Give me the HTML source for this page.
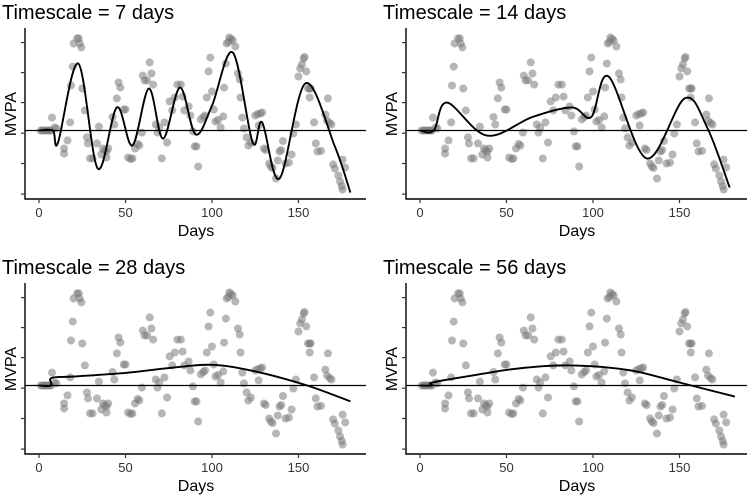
<!DOCTYPE html>
<html><head><meta charset="utf-8"><style>
html,body{margin:0;padding:0;background:#fff;}
svg{display:block;font-family:"Liberation Sans",sans-serif;}
</style></head><body>
<svg id="chart" width="750" height="495"></svg>
<script>
const days = [1,2,3,4,5,6,7,7.5,9,10,14.5,14.5,16.5,18,18.5,19.5,20,22,23,23.5,24.5,25,26.5,27.7,28.3,29.5,31,33.5,34.6,36,37,38,39,40,39,42.5,43.5,45,46,47,49,50,51.5,53,54,55.5,57,58,59.5,60,61,62.5,64,65,66,67.5,68.5,69.5,71,72.5,74,75.5,77,78.5,80,82,83,84,86.5,87.5,89,90,91,92,93.5,95,96,97,98,99,100,101,102,103.5,105,106.5,107,108,108.5,109.5,110,111,112,113.5,115,116,116.5,117.5,118.5,120,121,122.5,125,126.5,128,129,127,130,131,133,134,135,137,138,139,140,141,142.5,144.5,146,147,148.5,150,151,152,153,153.5,154.5,155.5,156.5,157,156.5,159,160,161,163,165.5,166.5,168,169,167,170,171,173,174,175,175.5,175.5,177];
const mvpa = [0,0,0,0,0,0,0,0.43,0.1,0.07,-0.6,-0.77,-0.33,0.27,1.5,2.13,2.9,3.07,3.07,2.9,2.77,1.4,0.67,-0.23,-0.43,-0.93,-0.93,-0.43,0.13,-0.8,-0.6,-0.67,-0.7,-0.6,-0.9,0.45,0.2,1.07,1.6,1.43,0.7,0.7,-0.9,-0.95,-0.93,-0.6,-0.45,-0.5,-0.07,1.83,1.67,1.67,2.27,1.9,1.53,0.2,-0.07,0.1,-0.93,0.27,-0.4,0.97,0.67,1.1,1.53,1.53,1.13,0.67,0.8,0.5,-0.03,-0.53,-0.53,-1.2,0.37,0.45,0.5,1.1,1.97,2.43,1.3,0.7,0.3,0.35,0.1,0.47,1.43,2.23,2.9,2.95,3.1,3.05,3.0,2.8,1.9,1.7,1.1,0.43,0.07,-0.23,-0.5,-0.4,0.5,0.55,0.57,0.6,0.17,-0.6,-0.65,-1.1,-1.2,-1.25,-1.6,-1.0,-0.7,-0.65,-0.35,-1.1,-1.07,-0.8,-0.1,0.2,1.8,2.07,2.2,2.4,2.45,1.97,1.4,1.4,1.4,1.1,0.27,-0.43,-0.7,-0.68,0.53,0.33,0.25,0.2,1.07,-1.13,-1.27,-1.5,-1.7,-1.85,-1.97,-0.97,-1.23];
const yTicks = [-2.12,-1.1,-0.09,0.93,1.93,2.93];
const xTicks = [0,50,100,150];
const titles = ["Timescale = 7 days","Timescale = 14 days","Timescale = 28 days","Timescale = 56 days"];
const c7d = [0,8,11,22.7,34,45,54,63.5,71.7,81.5,90.5,100,112,123.5,129,139,154,171,180];
const c7v = [0,0,-0.4,2.23,-1.27,0.77,-0.5,1.4,-0.27,1.43,-0.13,0.83,2.6,-0.4,0.27,-1.6,1.57,-0.53,-2.07];
const c14d = [0,8,15.6,38.6,65,87.7,99,109,131,153,166,179];
const c14v = [0,0,0.93,-0.17,0.45,0.77,0.45,1.8,-0.93,1.07,0.1,-1.9];
const c28d = [0,7,7.2,20,50,75,100,125,155,180];
const c28v = [0,0,0.25,0.3,0.42,0.58,0.69,0.47,0,-0.53];
const c56d = [0,7,7.2,30,50,70,85,105,125,150,182];
const c56v = [0,0,0.1,0.33,0.52,0.64,0.67,0.62,0.47,0.1,-0.37];
const curvesD=[c7d,c14d,c28d,c56d], curvesV=[c7v,c14v,c28v,c56v];

const NS="http://www.w3.org/2000/svg";
const svg=document.getElementById('chart');
function mk(tag,attrs,parent){const e=document.createElementNS(NS,tag);for(const k in attrs)e.setAttribute(k,attrs[k]);parent.appendChild(e);return e;}
const offs=[[0,0],[381,0],[0,255],[381,255]];
function sx(d){return 39+d*1.73;}
function sy(v){return 130.5-v*30;}
function smoothPath(ds,vs){
  const p=ds.map((d,i)=>[sx(d),sy(vs[i])]);
  let s="M"+p[0][0]+","+p[0][1];
  for(let i=0;i<p.length-1;i++){
    const p0=p[Math.max(0,i-1)],p1=p[i],p2=p[i+1],p3=p[Math.min(p.length-1,i+2)];
    const c1=[p1[0]+(p2[0]-p0[0])/6,p1[1]+(p2[1]-p0[1])/6];
    const c2=[p2[0]-(p3[0]-p1[0])/6,p2[1]-(p3[1]-p1[1])/6];
    s+=" C"+c1[0]+","+c1[1]+" "+c2[0]+","+c2[1]+" "+p2[0]+","+p2[1];
  }
  return s;
}
offs.forEach((o,k)=>{
  const g=mk('g',{transform:`translate(${o[0]},${o[1]})`},svg);
  
  
  const t=mk('text',{x:2,y:19,'font-size':20,fill:'#000'},g);t.textContent=titles[k];
  
  
  const pts=mk('g',{},g);
  
  
  days.forEach((d,i)=>{
    const c=mk('circle',{cx:sx(d),cy:sy(mvpa[i]),r:4,fill:'#7a7a7a','fill-opacity':0.55},pts);
    
    
  });
  const z=mk('line',{x1:25,x2:366,y1:sy(0),y2:sy(0),stroke:'#000','stroke-width':1.3},g);
  
  
  const cp=mk('path',{d:smoothPath(curvesD[k],curvesV[k]),fill:'none',stroke:'#000','stroke-width':1.9},g);
  
  
  const ax=mk('path',{d:'M25,28 V199 H366',fill:'none',stroke:'#000','stroke-width':1.4},g);
  
  
  yTicks.forEach(v=>{const l=mk('line',{x1:21,x2:25,y1:sy(v),y2:sy(v),stroke:'#333','stroke-width':1.2},g);
    
    });
  xTicks.forEach(d=>{const l=mk('line',{x1:sx(d),x2:sx(d),y1:199,y2:203,stroke:'#333','stroke-width':1.2},g);
    
    
    const tl=mk('text',{x:sx(d),y:217,'font-size':13,'text-anchor':'middle',fill:'#333'},g);tl.textContent=d;
    
    });
  const xl=mk('text',{x:196,y:236,'font-size':16,'text-anchor':'middle',fill:'#000'},g);xl.textContent='Days';
  
  
  const yl=mk('text',{x:0,y:0,'font-size':16,'text-anchor':'middle',fill:'#000',transform:'translate(16,114) rotate(-90)'},g);yl.textContent='MVPA';
  
  
});
</script>
</body></html>
